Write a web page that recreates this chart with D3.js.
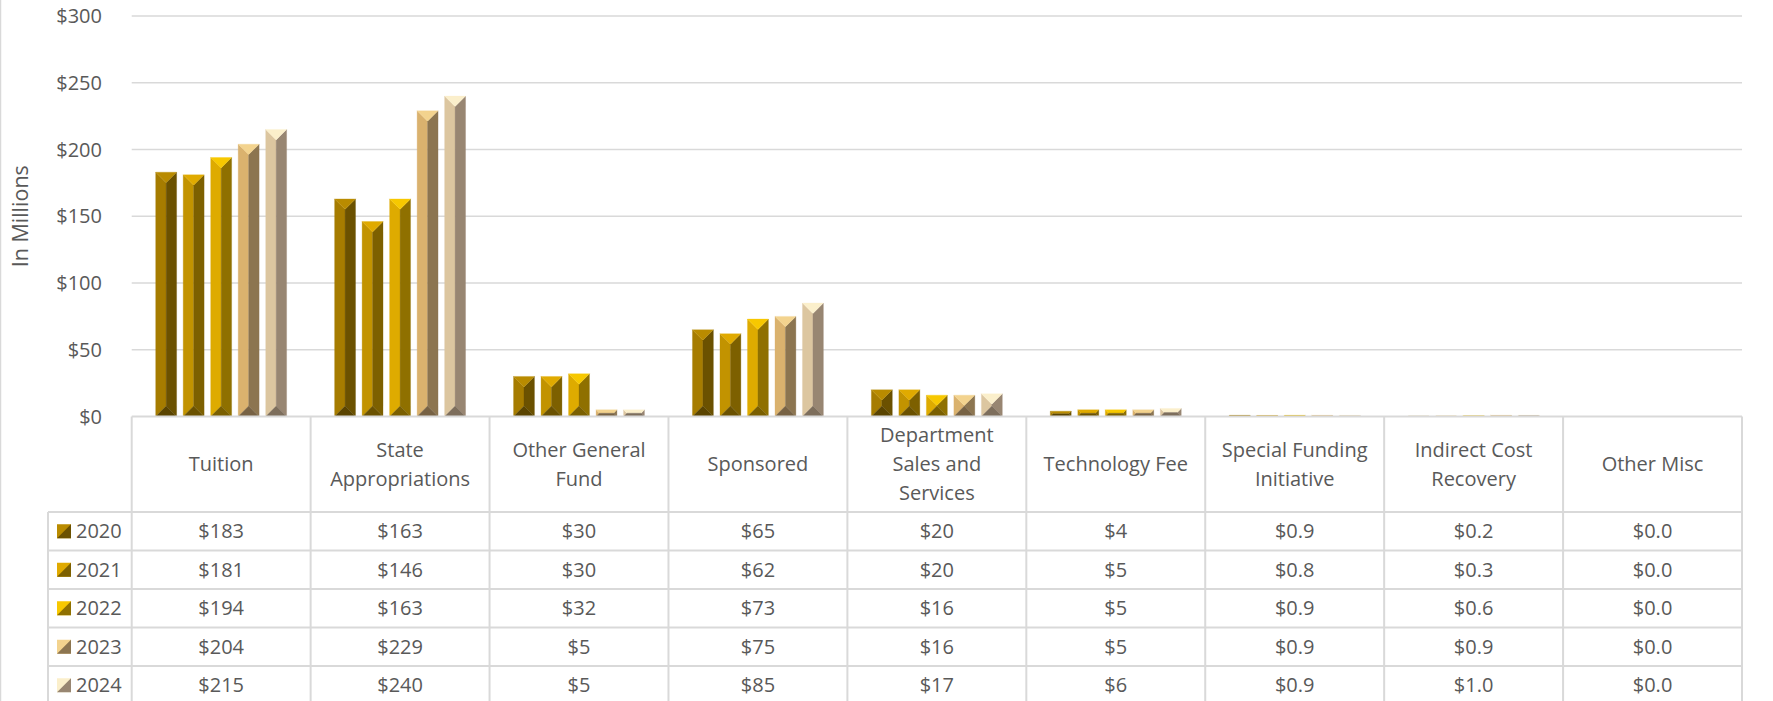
<!DOCTYPE html>
<html>
<head>
<meta charset="utf-8">
<script src="https://cdn.jsdelivr.net/npm/d3@7"></script>
<style>
  body { margin: 0; background: #fff; }
  svg { display: block; font-family: "Open Sans", "Noto Sans", sans-serif; }
</style>
</head>
<body>
<div id="chart"></div>
<script>
const years = ["2020", "2021", "2022", "2023", "2024"];
const categories = ["Tuition", "State Appropriations", "Other General Fund", "Sponsored",
    "Department Sales and Services", "Technology Fee", "Special Funding Initiative",
    "Indirect Cost Recovery", "Other Misc"];
const values2020 = [183, 163, 30, 65, 20, 4, 0.9, 0.2, 0.0];
const values2021 = [181, 146, 30, 62, 20, 5, 0.8, 0.3, 0.0];
const values2022 = [194, 163, 32, 73, 16, 5, 0.9, 0.6, 0.0];
const values2023 = [204, 229, 5, 75, 16, 5, 0.9, 0.9, 0.0];
const values2024 = [215, 240, 5, 85, 17, 6, 0.9, 1.0, 0.0];
const yTicks = [0, 50, 100, 150, 200, 250, 300];
const decimals = [0, 0, 0, 0, 0, 0, 1, 1, 1];

const series = [values2020, values2021, values2022, values2023, values2024];

// bevel facet colours per year: left, right, top, bottom
const faces = [
    { left: "#a67c00", right: "#6b5100", top: "#b98b00", bottom: "#5a4400" },
    { left: "#c29300", right: "#7d6000", top: "#e0aa00", bottom: "#6a5100" },
    { left: "#deab00", right: "#8f7000", top: "#f7c800", bottom: "#7a5f00" },
    { left: "#dab26e", right: "#8c7550", top: "#f3d38e", bottom: "#776244" },
    { left: "#dcc6a0", right: "#988672", top: "#fbefcb", bottom: "#7d6e5c" }
];

const W = 1773, H = 701;
const plotLeft = 131.7, plotRight = 1742, plotTop = 16, plotBase = 416.5;
const headerBottom = 512, rowH = 38.5, legendLeft = 48;
const textColor = "#595959", gridColor = "#d9d9d9";
const fontSize = "20px";

const svg = d3.select("#chart").append("svg")
    .attr("width", W)
    .attr("height", H);

// chart border on the left
svg.append("line")
    .attr("x1", 0.5).attr("x2", 0.5).attr("y1", 0).attr("y2", H)
    .attr("stroke", gridColor).attr("stroke-width", 1.5);

const x = d3.scaleBand().domain(categories).range([plotLeft, plotRight]).padding(0);
const x1 = d3.scaleBand().domain(years).range([24, x.bandwidth() - 24]).paddingInner(0.24);
const y = d3.scaleLinear().domain([0, 300]).range([plotBase, plotTop]);

// gridlines
svg.append("g").selectAll("line")
    .data(yTicks.filter(d => d > 0))
    .join("line")
    .attr("x1", plotLeft).attr("x2", plotRight)
    .attr("y1", d => y(d)).attr("y2", d => y(d))
    .attr("stroke", gridColor).attr("stroke-width", 1.5);

// y labels
svg.append("g").selectAll("text")
    .data(yTicks)
    .join("text")
    .attr("x", 102)
    .attr("y", d => y(d))
    .attr("dy", "0.35em")
    .attr("text-anchor", "end")
    .attr("fill", textColor)
    .style("font-size", fontSize)
    .text(d => "$" + d);

svg.append("text")
    .attr("transform", `translate(28,${(plotTop + plotBase) / 2}) rotate(-90)`)
    .attr("text-anchor", "middle")
    .attr("fill", textColor)
    .style("font-size", "21.5px")
    .text("In Millions");

// bevelled bars
function facets(x0, x1_, y0, y1) {
    const d = Math.min(x1_ - x0, y1 - y0) / 2;
    const ix0 = x0 + d, ix1 = x1_ - d, iy0 = y0 + d, iy1 = y1 - d;
    return {
        top: [[x0, y0], [x1_, y0], [ix1, iy0], [ix0, iy0]],
        right: [[x1_, y0], [x1_, y1], [ix1, iy1], [ix1, iy0]],
        bottom: [[x0, y1], [x1_, y1], [ix1, iy1], [ix0, iy1]],
        left: [[x0, y0], [ix0, iy0], [ix0, iy1], [x0, y1]]
    };
}

const barData = [];
series.forEach((vals, si) => {
    vals.forEach((v, ci) => {
        if (v <= 0) return;
        barData.push({ year: years[si], si, cat: categories[ci], value: v });
    });
});

const bars = svg.append("g").selectAll("g")
    .data(barData)
    .join("g");

["left", "right", "top", "bottom"].forEach(side => {
    bars.append("polygon")
        .attr("points", d => {
            const bx = x(d.cat) + x1(d.year);
            const f = facets(bx, bx + x1.bandwidth(), y(d.value), y(0));
            return f[side].map(p => p.join(",")).join(" ");
        })
        .attr("fill", d => faces[d.si][side])
        .attr("stroke", d => faces[d.si][side])
        .attr("stroke-width", 0.3);
});

// data table
const table = svg.append("g");
const rowsBottom = headerBottom + years.length * rowH;

// horizontal lines
table.append("line")
    .attr("x1", plotLeft).attr("x2", plotRight).attr("y1", plotBase).attr("y2", plotBase)
    .attr("stroke", gridColor).attr("stroke-width", 2);
table.selectAll(".hrow")
    .data(d3.range(years.length + 1))
    .join("line")
    .attr("class", "hrow")
    .attr("x1", legendLeft).attr("x2", plotRight)
    .attr("y1", i => headerBottom + i * rowH)
    .attr("y2", i => headerBottom + i * rowH)
    .attr("stroke", gridColor).attr("stroke-width", 2);

// vertical lines
table.selectAll(".vcol")
    .data(categories.map(c => x(c)).concat([plotRight]))
    .join("line")
    .attr("class", "vcol")
    .attr("x1", d => d).attr("x2", d => d)
    .attr("y1", plotBase).attr("y2", rowsBottom)
    .attr("stroke", gridColor).attr("stroke-width", 2);
table.append("line")
    .attr("x1", legendLeft).attr("x2", legendLeft)
    .attr("y1", headerBottom).attr("y2", rowsBottom)
    .attr("stroke", gridColor).attr("stroke-width", 2);

// header labels with wrapping
const headerMid = (plotBase + headerBottom) / 2;
const header = table.selectAll(".head")
    .data(categories)
    .join("text")
    .attr("class", "head")
    .attr("x", d => x(d) + x.bandwidth() / 2)
    .attr("text-anchor", "middle")
    .attr("fill", textColor)
    .style("font-size", fontSize);

header.each(function(d) {
    const el = d3.select(this);
    const words = d.split(" ");
    const lines = [];
    let line = [];
    const probe = el.append("tspan");
    words.forEach(w => {
        const test = line.concat([w]).join(" ");
        probe.text(test);
        if (probe.node().getComputedTextLength() > 158 && line.length) {
            lines.push(line.join(" "));
            line = [w];
        } else {
            line.push(w);
        }
    });
    lines.push(line.join(" "));
    probe.remove();
    const lh = 29;
    const startY = headerMid - (lines.length - 1) * lh / 2;
    lines.forEach((l, i) => {
        el.append("tspan")
            .attr("x", x(d) + x.bandwidth() / 2)
            .attr("y", startY + i * lh)
            .attr("dy", "0.35em")
            .text(l);
    });
});

// legend cells and values
years.forEach((yr, si) => {
    const cy = headerBottom + si * rowH + rowH / 2;
    const kx = 57, ks = 14, ky = cy - ks / 2;
    table.append("rect")
        .attr("x", kx).attr("y", ky).attr("width", ks).attr("height", ks)
        .attr("fill", faces[si].top);
    table.append("polygon")
        .attr("points", `${kx + ks},${ky} ${kx + ks},${ky + ks} ${kx},${ky + ks}`)
        .attr("fill", faces[si].right);
    table.append("text")
        .attr("x", 76).attr("y", cy).attr("dy", "0.35em")
        .attr("fill", textColor)
        .style("font-size", fontSize)
        .text(yr);

    table.selectAll(".val" + si)
        .data(series[si])
        .join("text")
        .attr("class", "val" + si)
        .attr("x", (d, ci) => x(categories[ci]) + x.bandwidth() / 2)
        .attr("y", cy).attr("dy", "0.35em")
        .attr("text-anchor", "middle")
        .attr("fill", textColor)
        .style("font-size", fontSize)
        .text((d, ci) => "$" + d.toFixed(decimals[ci]));
});
</script>
</body>
</html>
